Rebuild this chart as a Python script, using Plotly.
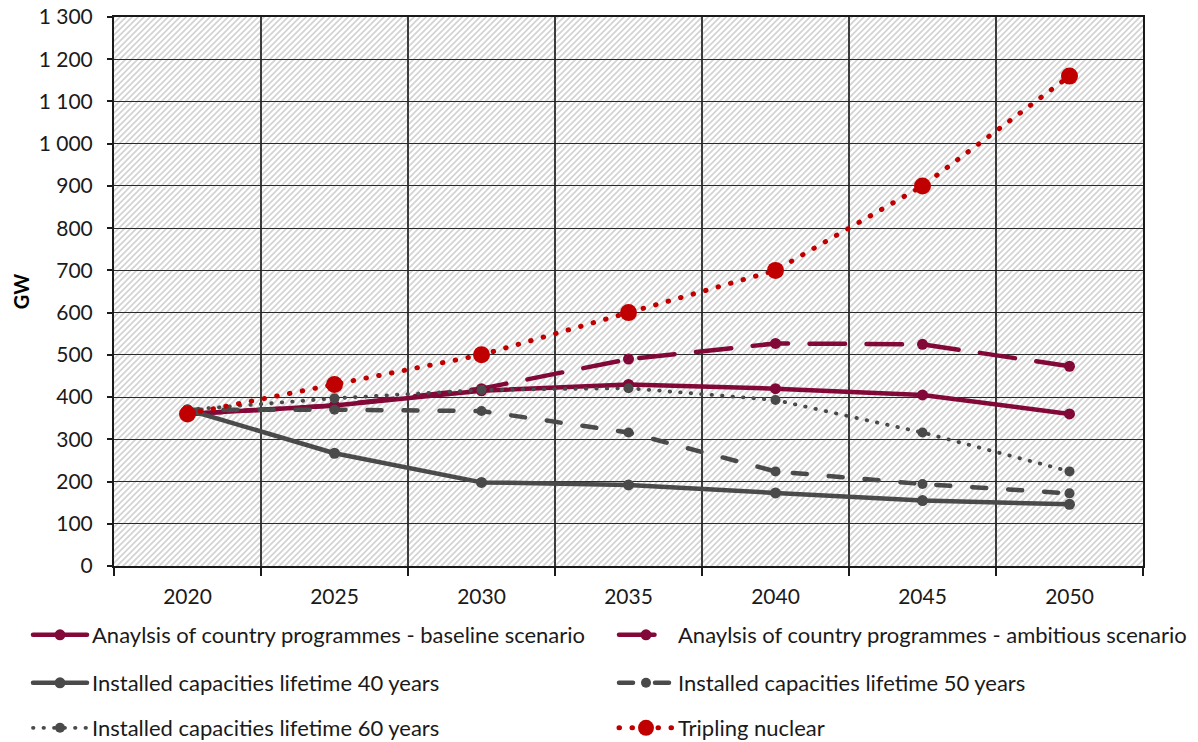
import base64
import plotly.graph_objects as go

# ---- data -------------------------------------------------------------
years = ["2020", "2025", "2030", "2035", "2040", "2045", "2050"]
baseline = [360, 380, 415, 430, 420, 405, 360]
ambitious = [360, 380, 420, 490, 527, 525, 473]
lifetime40 = [370, 267, 198, 192, 173, 155, 146]
lifetime50 = [370, 370, 367, 316, 224, 194, 172]
lifetime60 = [370, 397, 417, 421, 393, 316, 224]
tripling = [360, 430, 500, 600, 700, 900, 1160]

y_ticks = list(range(0, 1301, 100))

# ---- style ------------------------------------------------------------
CRIMSON = "#820838"
GREY = "#4a4a4a"
RED = "#c00000"
FONT = "Lato"

W, H = 1198, 742
M_L, M_R, M_T, M_B = 114, 55, 17, 176
PW, PH = W - M_L - M_R, H - M_T - M_B

# diagonal hatch used as the plot-area background
hatch_svg = f"""<svg xmlns='http://www.w3.org/2000/svg' width='{PW}' height='{PH}' preserveAspectRatio='none'>
<defs><pattern id='h' width='6' height='6' patternUnits='userSpaceOnUse'>
<path d='M0,6 L6,0 M-1,1 L1,-1 M5,7 L7,5' stroke='#d2d2d2' stroke-width='1.6'/>
</pattern></defs>
<rect width='{PW}' height='{PH}' fill='white'/>
<rect width='{PW}' height='{PH}' fill='url(#h)'/>
</svg>"""
hatch_uri = "data:image/svg+xml;base64," + base64.b64encode(hatch_svg.encode()).decode()

# legend grid: two columns, three rows below the plot
COL_X = [28, 614]
ROW_Y = [635, 683, 728]

series = [
    dict(name="Anaylsis of country programmes - baseline scenario", y=baseline,
         color=CRIMSON, width=4.5, dash="solid", msize=11, cell=(0, 0)),
    dict(name="Anaylsis of country programmes - ambitious scenario", y=ambitious,
         color=CRIMSON, width=4.5, dash="35.5px,21.5px", msize=11, cell=(1, 0)),
    dict(name="Installed capacities lifetime 40 years", y=lifetime40,
         color=GREY, width=4.5, dash="solid", msize=11, cell=(0, 1)),
    dict(name="Installed capacities lifetime 50 years", y=lifetime50,
         color=GREY, width=4.5, dash="14px,22px", msize=10, cell=(1, 1)),
    dict(name="Installed capacities lifetime 60 years", y=lifetime60,
         color=GREY, width=3.8, dash="0.5px,10px", msize=10, cell=(0, 2)),
    dict(name="Tripling nuclear", y=tripling,
         color=RED, width=5, dash="0.5px,12.5px", msize=17, cell=(1, 2)),
]

fig = go.Figure()
legends = {}
for i, s in enumerate(series):
    key = "legend" if i == 0 else f"legend{i + 1}"
    col, row = s["cell"]
    legends[key] = dict(
        orientation="h", xref="container", yref="container",
        x=COL_X[col] / W, xanchor="left",
        y=1 - ROW_Y[row] / H, yanchor="middle",
        font=dict(family=FONT, size=22, color="#1a1a1a"),
        itemwidth=54, bgcolor="rgba(0,0,0,0)",
        itemclick=False, itemdoubleclick=False,
    )
    fig.add_trace(go.Scatter(
        x=years, y=s["y"], name=s["name"], mode="lines+markers",
        line=dict(color=s["color"], width=s["width"], dash=s["dash"]),
        marker=dict(color=s["color"], size=s["msize"], symbol="circle"),
        legend=key, cliponaxis=False,
    ))

fig.update_layout(
    width=W, height=H,
    margin=dict(l=M_L, r=M_R, t=M_T, b=M_B, autoexpand=False),
    paper_bgcolor="white", plot_bgcolor="white",
    separators=". ",
    font=dict(family=FONT, color="black"),
    showlegend=True,
    images=[dict(source=hatch_uri, xref="x", yref="y", x=-0.5, y=1300,
                 sizex=7, sizey=1300, sizing="stretch", layer="below",
                 xanchor="left", yanchor="top")],
    **legends,
)

fig.update_xaxes(
    type="category", range=[-0.5, 6.5], tickson="boundaries",
    showgrid=True, gridcolor="#3c3c3c", gridwidth=1.6,
    showline=True, linecolor="#1a1a1a", linewidth=2, mirror=True,
    ticks="outside", ticklen=8, tickwidth=2, tickcolor="#1a1a1a",
    tickfont=dict(family=FONT, size=21, color="#1a1a1a"),
    ticklabelstandoff=11, fixedrange=True,
)
fig.update_yaxes(
    range=[0, 1300], tickvals=y_ticks, separatethousands=True,
    showgrid=True, gridcolor="#2a2a2a", gridwidth=1.3, zeroline=False,
    showline=True, linecolor="#1a1a1a", linewidth=2, mirror=True,
    ticks="outside", ticklen=5, tickwidth=1.5, tickcolor="#1a1a1a",
    tickfont=dict(family=FONT, size=21, color="#1a1a1a"),
    ticklabelstandoff=10,
    title=dict(text="<b>GW</b>", font=dict(family=FONT, size=20, color="black"),
               standoff=4),
    fixedrange=True,
)

# round caps so the dotted / dashed series draw as round dots and pill dashes
post = """
var s = document.createElement('style');
s.textContent = 'path.js-line{stroke-linecap:round;stroke-linejoin:round;}';
document.head.appendChild(s);
"""

fig.write_html("out.html", post_script=post, config={"displayModeBar": False})
